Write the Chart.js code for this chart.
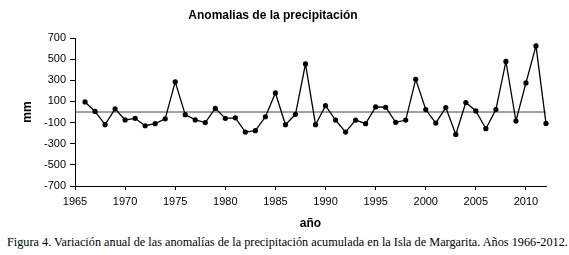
<!DOCTYPE html>
<html>
<head>
<meta charset="utf-8">
<script src="https://cdn.jsdelivr.net/npm/chart.js@4"></script>
<style>
  html, body { margin: 0; padding: 0; background: #fff; }
  body { width: 569px; height: 255px; position: relative; overflow: hidden; }
  #wrap { position: absolute; left: 0; top: 0; width: 569px; height: 232px; }
  #caption { position: absolute; left: 7px; top: 235px; white-space: nowrap;
    font-family: "Liberation Serif", "Times New Roman", serif; font-size: 12.25px; line-height: 15px; color: #000; }
</style>
</head>
<body>
<div id="wrap"><canvas id="c"></canvas></div>
<div id="caption">Figura 4. Variación anual de las anomalías de la precipitación acumulada en la Isla de Margarita. Años 1966-2012.</div>
<script>
const chartTitle = "Anomalias de la precipitación";
const yAxisTitle = "mm";
const xAxisTitle = "año";
const years = [1966,1967,1968,1969,1970,1971,1972,1973,1974,1975,
               1976,1977,1978,1979,1980,1981,1982,1983,1984,1985,
               1986,1987,1988,1989,1990,1991,1992,1993,1994,1995,
               1996,1997,1998,1999,2000,2001,2002,2003,2004,2005,
               2006,2007,2008,2009,2010,2011,2012];
const anomalies = [95,5,-120,30,-75,-60,-130,-110,-65,285,
                   -25,-75,-100,35,-60,-55,-190,-177,-45,180,
                   -120,-22,455,-120,60,-76,-190,-76,-110,48,
                   45,-98,-76,310,23,-105,42,-212,90,10,
                   -158,23,478,-85,275,625,-108];
const xRange = [1965, 2012];
const yRange = [-700, 700];
const xStep = 5;
const yStep = 200;
const zeroLine = [0, 0];

const seriesPoints = years.map((yr, i) => ({x: yr, y: anomalies[i]}));
const zeroPoints = xRange.map((yr, i) => ({x: yr, y: zeroLine[i]}));

const tickFont = {family: "'Liberation Sans', Arial, sans-serif", size: 11};
const boldFont = {family: "'Liberation Sans', Arial, sans-serif", size: 12, weight: 'bold'};

new Chart(document.getElementById('c'), {
  type: 'line',
  data: {
    datasets: [
      {
        data: seriesPoints,
        borderColor: '#000',
        backgroundColor: '#000',
        borderWidth: 1.3,
        pointRadius: 2.6,
        pointBorderWidth: 0,
        pointBackgroundColor: '#000',
        tension: 0,
        clip: false,
        order: 0
      },
      {
        data: zeroPoints,
        borderColor: '#444',
        borderWidth: 1,
        pointRadius: 0,
        tension: 0,
        clip: false,
        order: 1
      }
    ]
  },
  options: {
    responsive: true,
    maintainAspectRatio: false,
    animation: false,
    devicePixelRatio: 1,
    layout: { padding: { left: 0, right: 23, top: 0, bottom: 0 } },
    plugins: {
      legend: { display: false },
      tooltip: { enabled: false },
      title: {
        display: true,
        text: chartTitle,
        color: '#000',
        font: boldFont,
        padding: { top: 8, bottom: 15.6 }
      }
    },
    scales: {
      x: {
        type: 'linear',
        min: xRange[0],
        max: xRange[1],
        afterFit: (s) => { s.height = 46; },
        ticks: {
          stepSize: xStep,
          includeBounds: false,
          color: '#000',
          font: tickFont,
          padding: 5,
          maxRotation: 0,
          autoSkip: false,
          callback: (v) => String(v)
        },
        grid: { display: true, drawOnChartArea: false, drawTicks: true, tickLength: 4, color: '#000' },
        border: { display: true, color: '#000', width: 1 },
        title: { display: true, text: xAxisTitle, color: '#000', font: boldFont, padding: { top: 0, bottom: 1 } }
      },
      y: {
        type: 'linear',
        min: yRange[0],
        max: yRange[1],
        afterFit: (s) => { s.width = 75; },
        ticks: {
          stepSize: yStep,
          color: '#000',
          font: tickFont,
          padding: 4,
          autoSkip: false
        },
        grid: { display: true, drawOnChartArea: false, drawTicks: true, tickLength: 5, color: '#000' },
        border: { display: true, color: '#000', width: 1 },
        title: { display: true, text: yAxisTitle, color: '#000', font: boldFont, padding: { top: 20, bottom: 0 } }
      }
    }
  }
});
</script>
</body>
</html>
